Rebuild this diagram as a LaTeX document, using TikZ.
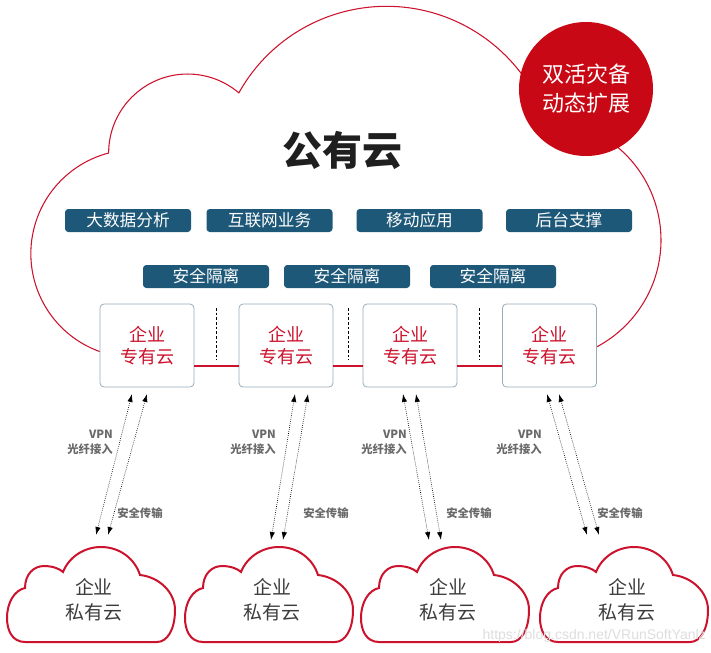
\documentclass[tikz,border=0pt]{standalone}
\usepackage{fontspec}
\setmainfont{Noto Sans CJK SC}
\newfontfamily\wmfont{Liberation Sans}
\usetikzlibrary{arrows.meta}
\definecolor{cred}{RGB}{204,18,44}
\definecolor{cfill}{RGB}{200,8,20}
\definecolor{cblue}{RGB}{30,88,120}
\definecolor{cbox}{RGB}{150,172,186}
\definecolor{cgray}{RGB}{105,105,105}
\definecolor{cdark}{RGB}{60,60,60}
\tikzset{
  cloudline/.style={draw=cred, line width=0.8pt},
  svc/.style={fill=cblue, rounded corners=2.5pt, minimum width=94.5pt, minimum height=17.25pt,
    inner sep=0pt, text=white, font=\fontsize{12.5}{13}\selectfont},
  ent/.style={draw=cbox, line width=0.6pt, rounded corners=3pt, minimum width=70.5pt,
    minimum height=62.25pt, fill=white, text=cred, align=center, inner sep=0pt,
    font=\fontsize{13.5}{16.5}\selectfont},
  redline/.style={draw=cred, line width=0.9pt},
  sepline/.style={draw=black, dashed, line width=0.5pt, dash pattern=on 2pt off 1.5pt},
  arr/.style={densely dotted, line width=0.5pt, {Latex[length=6pt,width=4pt]}-{Latex[length=6pt,width=4pt]}},
  lbl/.style={text=cgray, font=\bfseries\fontsize{8.5}{11.25}\selectfont, inner sep=0pt},
  ptext/.style={text=cdark, align=center, font=\fontsize{14.2}{18.75}\selectfont, inner sep=0pt},
  pcloud/.pic={
    \draw[draw=cred, line width=1.5pt, fill=white]
      (18,0) .. controls (5,0) and (0,-12) .. (0,-24)
      .. controls (0,-40) and (8,-52) .. (18,-54)
      .. controls (18,-68) and (27,-76) .. (37,-76)
      .. controls (46,-76) and (53,-73) .. (56,-70)
      .. controls (62,-85) and (77,-95) .. (94,-95)
      .. controls (113,-95) and (128,-83) .. (133,-67)
      .. controls (152,-65) and (168,-50) .. (168,-32)
      .. controls (168,-12) and (160,0) .. (150,0) -- cycle;
  }
}
\begin{document}
\begin{tikzpicture}[x=0.75pt,y=-0.75pt]
\useasboundingbox (0,0) rectangle (711,653);

% public cloud outline
\draw[cloudline] (101,352) arc[start angle=109,end angle=255.4,radius=104]
  arc[start angle=180,end angle=310.4,radius=79]
  arc[start angle=209.2,end angle=330,radius=169];
\draw[cloudline] (609.4,140.9) arc[start angle=-55,end angle=62.4,radius=121];

% red circle
\node[circle, fill=cfill, minimum size=100.5pt, inner sep=0pt, text=white, align=center,
  font=\fontsize{16.5}{21.75}\selectfont] (dr) at (586,89) {双活灾备\\动态扩展};

% title
\node[font=\bfseries\fontsize{30}{34}\selectfont, text=black!88] (title) at (342,150) {公有云};

% services
\node[svc] (s1) at (128,220.5) {大数据分析};
\node[svc] (s2) at (269.5,220.5) {互联网业务};
\node[svc] (s3) at (419.5,220.5) {移动应用};
\node[svc] (s4) at (569,220.5) {后台支撑};

\node[svc] (g1) at (206,276.5) {安全隔离};
\node[svc] (g2) at (347,276.5) {安全隔离};
\node[svc] (g3) at (493,276.5) {安全隔离};

% enterprise private cloud boxes
\node[ent] (e1) at (147,345.5) {企业\\专有云};
\node[ent] (e2) at (286,345.5) {企业\\专有云};
\node[ent] (e3) at (410,345.5) {企业\\专有云};
\node[ent] (e4) at (549.5,345.5) {企业\\专有云};

\draw[redline] ([yshift=-15.4pt]e1.east) -- ([yshift=-15.4pt]e2.west);
\draw[redline] ([yshift=-15.4pt]e2.east) -- ([yshift=-15.4pt]e3.west);
\draw[redline] ([yshift=-15.4pt]e3.east) -- ([yshift=-15.4pt]e4.west);

\draw[sepline] (216.5,308) -- (216.5,360);
\draw[sepline] (348.5,308) -- (348.5,360);
\draw[sepline] (479.5,308) -- (479.5,360);

% arrows
\foreach \i/\xa/\xb/\xc/\xd/\yb in {1/132/96/147/108/535, 2/295/271/308/283/540, 3/403/429/416/441/540, 4/547/587/559/599/535}{
  \coordinate (ta\i) at (\xa,394);
  \coordinate (ba\i) at (\xb,\yb);
  \coordinate (tb\i) at (\xc,394);
  \coordinate (bb\i) at (\xd,\yb);
  \draw[arr] (ta\i) -- (ba\i);
  \draw[arr] (tb\i) -- (bb\i);
}

% labels
\foreach \i/\xv/\xs in {1/113/117, 2/276/303, 3/407/446, 4/542/597}{
  \node[lbl, anchor=east, align=right] (v\i) at (\xv,442.5) {VPN\\光纤接入};
  \node[lbl, anchor=west] (a\i) at (\xs,513) {安全传输};
}

% private clouds
\foreach \i/\x in {1/7, 2/185, 3/361, 4/540}{
  \pic (pc\i) at (\x,642) {pcloud};
  \node[ptext] (pt\i) at (\x+87,599.5) {企业\\私有云};
}

% watermark
\node[anchor=east, text=black!13, font=\wmfont\fontsize{10.5}{12}\selectfont, inner sep=0pt] (wm) at (706,636) {https://blog.csdn.net/VRunSoftYanlz};
\end{tikzpicture}
\end{document}
